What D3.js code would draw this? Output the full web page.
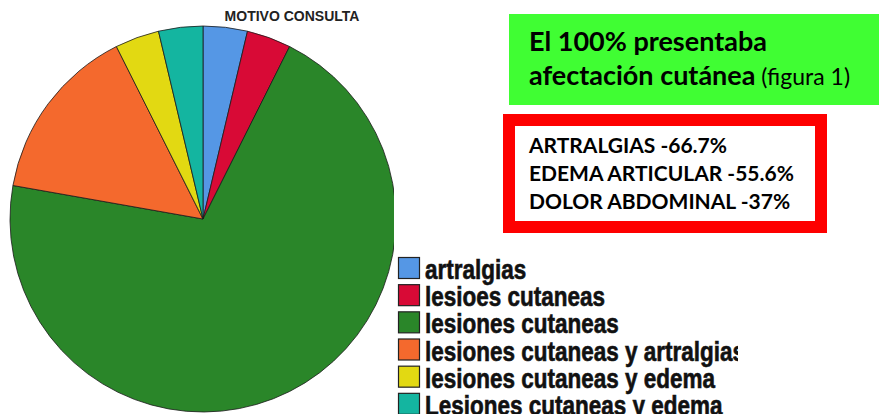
<!DOCTYPE html>
<html>
<head>
<meta charset="utf-8">
<script src="https://cdn.jsdelivr.net/npm/d3@7"></script>
<style>
  body { margin: 0; background: #fff; }
  svg { display: block; }
</style>
</head>
<body>
<script>
// data (n = 27 patients)
const categories = ["artralgias", "lesioes cutaneas", "lesiones cutaneas",
  "lesiones cutaneas y artralgias", "lesiones cutaneas y edema", "Lesiones cutaneas y edema"];
const counts = [1, 1, 19, 4, 1, 1];
const colors = ["#5597e5", "#d80a36", "#2a8629", "#f4692d", "#e2d912", "#14b5a0"];
const chartTitle = "MOTIVO CONSULTA";
const noteLines = ["ARTRALGIAS -66.7%", "EDEMA ARTICULAR -55.6%", "DOLOR ABDOMINAL -37%"];

const W = 879, H = 414;

const svg = d3.select("body").append("svg")
  .attr("width", W)
  .attr("height", H);

const defs = svg.append("defs");
defs.append("clipPath").attr("id", "pieClip")
  .append("rect").attr("x", 0).attr("y", 0).attr("width", 394).attr("height", H);
defs.append("clipPath").attr("id", "legClip")
  .append("rect").attr("x", 390).attr("y", 240).attr("width", 348).attr("height", 180);

// the pie
const color = d3.scaleOrdinal().domain(categories).range(colors);
const pie = d3.pie().sort(null).value(d => d.v);
const arc = d3.arc().innerRadius(0).outerRadius(193);
const rows = categories.map((c, i) => ({ c: c, v: counts[i] }));

svg.append("g")
  .attr("clip-path", "url(#pieClip)")
  .append("g")
  .attr("transform", "translate(203,219)")
  .selectAll("path")
  .data(pie(rows))
  .join("path")
  .attr("d", arc)
  .attr("fill", d => color(d.data.c))
  .attr("stroke", "#1a1a1a")
  .attr("stroke-width", 0.8);

svg.append("text")
  .attr("x", 292)
  .attr("y", 21)
  .attr("text-anchor", "middle")
  .attr("font-family", "'Liberation Sans', Arial, sans-serif")
  .attr("font-weight", "bold")
  .attr("font-size", 14)
  .attr("fill", "#222")
  .text(chartTitle);

// legend (text in the picture is stretched vertically)
const leg = svg.append("g").attr("clip-path", "url(#legClip)");
const legY = d3.scaleBand().domain(categories).range([257, 420]);
leg.selectAll("rect")
  .data(categories)
  .join("rect")
  .attr("x", 398.5)
  .attr("y", d => legY(d) + 0.5)
  .attr("width", 21)
  .attr("height", 21)
  .attr("fill", d => color(d))
  .attr("stroke", "#222")
  .attr("stroke-width", 1.2);
leg.selectAll("text")
  .data(categories)
  .join("text")
  .attr("transform", d => `translate(425,${legY(d) + 22}) scale(1,1.2)`)
  .attr("font-family", "'Liberation Sans', Arial, sans-serif")
  .attr("font-weight", "bold")
  .attr("font-size", 22.5)
  .attr("fill", "#111")
  .attr("stroke", "#111")
  .attr("stroke-width", 0.5)
  .text(d => d);

// green note box
svg.append("rect")
  .attr("x", 509).attr("y", 14)
  .attr("width", 370).attr("height", 91)
  .attr("fill", "#40fe33");
svg.append("text")
  .attr("x", 529).attr("y", 51)
  .attr("font-family", "Lato, 'Open Sans', sans-serif")
  .attr("font-weight", "bold").attr("font-size", 27)
  .attr("fill", "#000")
  .text("El 100% presentaba");
const t2 = svg.append("text")
  .attr("x", 529).attr("y", 85)
  .attr("font-family", "Lato, 'Open Sans', sans-serif")
  .attr("fill", "#000");
t2.append("tspan").attr("font-weight", "bold").attr("font-size", 27).text("afectación cutánea");
t2.append("tspan").attr("font-size", 23).text(" (figura 1)");

// red note box
svg.append("rect")
  .attr("x", 509).attr("y", 120)
  .attr("width", 312).attr("height", 107)
  .attr("fill", "#fff")
  .attr("stroke", "#fe0000")
  .attr("stroke-width", 12);
svg.append("g").selectAll("text")
  .data(noteLines)
  .join("text")
  .attr("x", 529)
  .attr("y", (d, i) => 153 + i * 28)
  .attr("font-family", "Lato, 'Open Sans', sans-serif")
  .attr("font-weight", "bold")
  .attr("font-size", 21)
  .attr("fill", "#000")
  .text(d => d);
</script>
</body>
</html>
